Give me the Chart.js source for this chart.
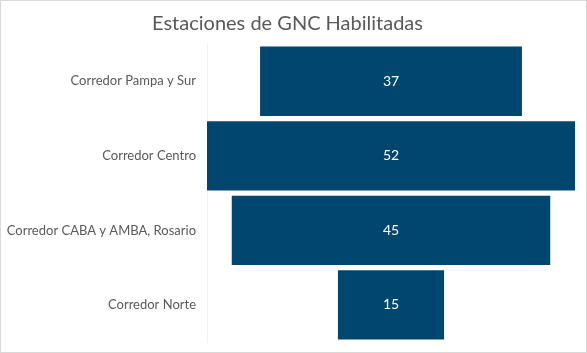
<!DOCTYPE html>
<html>
<head>
<meta charset="utf-8">
<script src="https://cdn.jsdelivr.net/npm/chart.js@4"></script>
<style>
html,body{margin:0;padding:0;background:#fff;}
#wrap{width:587px;height:353px;position:relative;}
</style>
</head>
<body>
<div id="wrap"><canvas id="c"></canvas></div>
<script>
const categories = ["Corredor Pampa y Sur", "Corredor Centro", "Corredor CABA y AMBA, Rosario", "Corredor Norte"];
const stationCounts = [37, 52, 45, 15];
const chartTitle = "Estaciones de GNC Habilitadas";

const halfMax = Math.max(...stationCounts) / 2;
const floating = stationCounts.map(v => [-v / 2, v / 2]);

const FONT = "Lato, 'Open Sans', sans-serif";

const borderPlugin = {
  id: 'frame',
  beforeDraw(chart) {
    const ctx = chart.ctx;
    ctx.save();
    ctx.fillStyle = '#ffffff';
    ctx.fillRect(0, 0, chart.width, chart.height);
    ctx.strokeStyle = '#d9d9d9';
    ctx.lineWidth = 1;
    ctx.strokeRect(0.5, 0.5, chart.width - 1, chart.height - 1);
    ctx.restore();
  }
};

const labelPlugin = {
  id: 'centerLabels',
  afterDatasetsDraw(chart) {
    const ctx = chart.ctx;
    const meta = chart.getDatasetMeta(0);
    ctx.save();
    ctx.fillStyle = '#ffffff';
    ctx.font = "14px " + FONT;
    ctx.textAlign = 'center';
    ctx.textBaseline = 'middle';
    meta.data.forEach((el, i) => {
      const cx = (el.x + el.base) / 2;
      ctx.fillText(String(stationCounts[i]), cx, el.y);
    });
    ctx.restore();
  }
};

new Chart(document.getElementById('c'), {
  type: 'bar',
  data: {
    labels: categories,
    datasets: [{
      data: floating,
      backgroundColor: '#00466f',
      borderWidth: 0,
      barPercentage: 0.93,
      categoryPercentage: 1.0
    }]
  },
  options: {
    indexAxis: 'y',
    responsive: true,
    maintainAspectRatio: false,
    animation: false,
    layout: { padding: { left: 0, right: 12, top: 0, bottom: 6 } },
    plugins: {
      legend: { display: false },
      tooltip: { enabled: false },
      title: {
        display: true,
        text: chartTitle,
        color: '#595959',
        font: { family: FONT, size: 20, weight: 'normal' },
        padding: { top: 12, bottom: 8 }
      }
    },
    scales: {
      x: { display: false, min: -halfMax, max: halfMax },
      y: {
        grid: { display: false },
        border: { display: true, color: '#f2f2f2' },
        ticks: {
          color: '#595959',
          font: { family: FONT, size: 13 },
          padding: 3
        },
        afterFit(scale) { scale.width = 207; }
      }
    }
  },
  plugins: [borderPlugin, labelPlugin]
});
</script>
</body>
</html>
